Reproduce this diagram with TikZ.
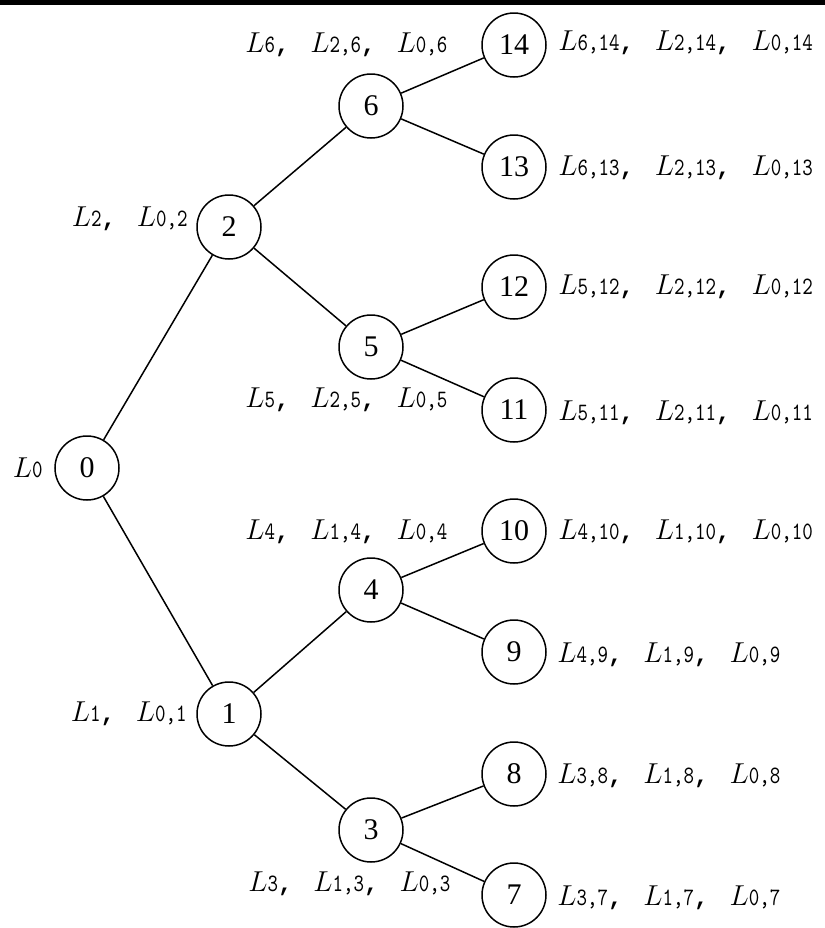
\documentclass[tikz,border=0pt]{standalone}
\usepackage{graphicx}
\usepackage{fontspec}
\newfontfamily\numfont{Liberation Serif}
\newfontfamily\commafont{Liberation Mono}
% Label pieces: italic L with a monospaced index, and the comma separator
\newcommand\Lx[1]{{\fontsize{13.5}{13.5}\selectfont$L$}\scalebox{1}[1.25]{\fontsize{10}{10}\selectfont\ttfamily#1}}
\newcommand\Sp{{\fontsize{12}{12}\selectfont\commafont\bfseries,}\hspace{10.5pt}}
\begin{document}
\begin{tikzpicture}[x=0.5pt,y=-0.5pt,
  vert/.style={circle,draw,line width=0.75pt,minimum size=32pt,inner sep=0pt,
    font=\fontsize{15}{15}\selectfont\numfont},
  lab/.style={inner sep=0pt},
  edge/.style={line width=0.75pt}]
\useasboundingbox (0,0) rectangle (825,928);
% rule across the top
\fill (0,0) rectangle (825,5);
% tree vertices
\node[vert] (n0) at (87,468) {0};
\node[vert] (n1) at (229,714) {1};
\node[vert] (n2) at (229,227) {2};
\node[vert] (n3) at (371,830) {3};
\node[vert] (n4) at (371,590) {4};
\node[vert] (n5) at (371,347) {5};
\node[vert] (n6) at (371,106) {6};
\node[vert] (n7) at (514,895) {7};
\node[vert] (n8) at (514,774) {8};
\node[vert] (n9) at (514,652) {9};
\node[vert] (n10) at (514,531) {10};
\node[vert] (n11) at (514,410) {11};
\node[vert] (n12) at (514,287) {12};
\node[vert] (n13) at (514,167) {13};
\node[vert] (n14) at (514,45) {14};
% edges
\draw[edge] (n0) -- (n2);
\draw[edge] (n0) -- (n1);
\draw[edge] (n2) -- (n6);
\draw[edge] (n2) -- (n5);
\draw[edge] (n1) -- (n4);
\draw[edge] (n1) -- (n3);
\draw[edge] (n6) -- (n14);
\draw[edge] (n6) -- (n13);
\draw[edge] (n5) -- (n12);
\draw[edge] (n5) -- (n11);
\draw[edge] (n4) -- (n10);
\draw[edge] (n4) -- (n9);
\draw[edge] (n3) -- (n8);
\draw[edge] (n3) -- (n7);
% labels of inner vertices
\node[lab,anchor=east] (l0) at (43,468) {\Lx{0}};
\node[lab,anchor=east] (l2) at (188,219) {\Lx{2}\Sp\Lx{0,2}};
\node[lab,anchor=east] (l1) at (187,714) {\Lx{1}\Sp\Lx{0,1}};
\node[lab,anchor=west] (l6) at (245,45) {\Lx{6}\Sp\Lx{2,6}\Sp\Lx{0,6}};
\node[lab,anchor=west] (l5) at (245,400) {\Lx{5}\Sp\Lx{2,5}\Sp\Lx{0,5}};
\node[lab,anchor=west] (l4) at (245,532) {\Lx{4}\Sp\Lx{1,4}\Sp\Lx{0,4}};
\node[lab,anchor=west] (l3) at (248,884) {\Lx{3}\Sp\Lx{1,3}\Sp\Lx{0,3}};
% labels of leaves
\node[lab,anchor=west] (l14) at (558,43) {\Lx{6,14}\Sp\Lx{2,14}\Sp\Lx{0,14}};
\node[lab,anchor=west] (l13) at (558,168) {\Lx{6,13}\Sp\Lx{2,13}\Sp\Lx{0,13}};
\node[lab,anchor=west] (l12) at (558,287) {\Lx{5,12}\Sp\Lx{2,12}\Sp\Lx{0,12}};
\node[lab,anchor=west] (l11) at (558,413) {\Lx{5,11}\Sp\Lx{2,11}\Sp\Lx{0,11}};
\node[lab,anchor=west] (l10) at (558,532) {\Lx{4,10}\Sp\Lx{1,10}\Sp\Lx{0,10}};
\node[lab,anchor=west] (l9) at (557,655) {\Lx{4,9}\Sp\Lx{1,9}\Sp\Lx{0,9}};
\node[lab,anchor=west] (l8) at (557,776) {\Lx{3,8}\Sp\Lx{1,8}\Sp\Lx{0,8}};
\node[lab,anchor=west] (l7) at (557,898) {\Lx{3,7}\Sp\Lx{1,7}\Sp\Lx{0,7}};
\end{tikzpicture}
\end{document}
